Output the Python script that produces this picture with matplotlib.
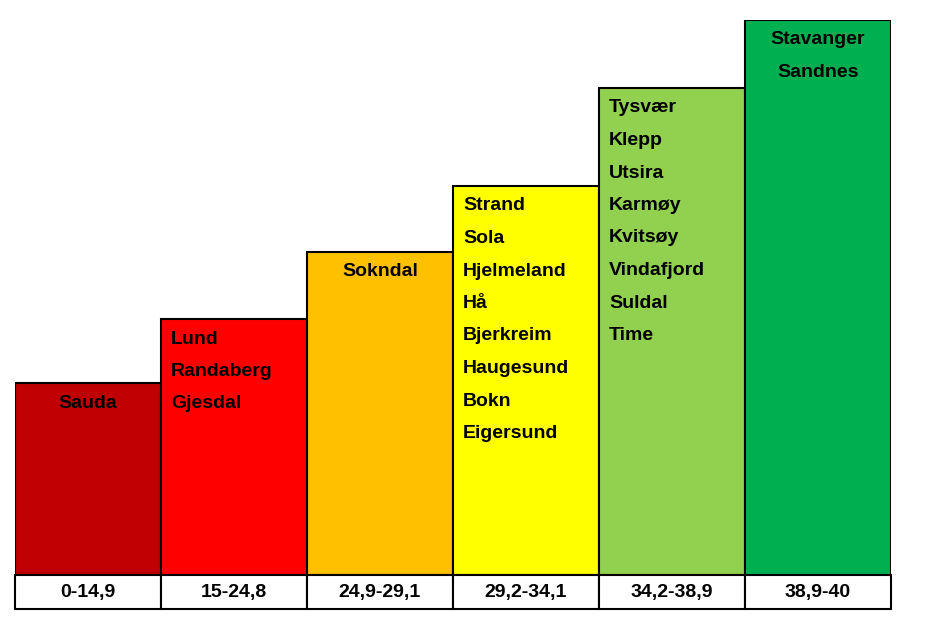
import matplotlib
matplotlib.use("Agg")
import matplotlib.pyplot as plt
from matplotlib.patches import Rectangle

plt.rcParams['font.family'] = ['Liberation Sans', 'DejaVu Sans']

ranges = ["0-14,9", "15-24,8", "24,9-29,1", "29,2-34,1", "34,2-38,9", "38,9-40"]
heights = [192, 256, 323, 389, 487, 555]
names = [
    ["Sauda"],
    ["Lund", "Randaberg", "Gjesdal"],
    ["Sokndal"],
    ["Strand", "Sola", "Hjelmeland", "Hå", "Bjerkreim", "Haugesund", "Bokn", "Eigersund"],
    ["Tysvær", "Klepp", "Utsira", "Karmøy", "Kvitsøy", "Vindafjord", "Suldal", "Time"],
    ["Stavanger", "Sandnes"],
]
centered = [True, False, True, False, False, True]
colors = ["#C00000", "#FF0000", "#FFC000", "#FFFF00", "#92D050", "#00B050"]

fig = plt.figure(figsize=(9.25, 6.32), dpi=100)
ax = fig.add_axes([15 / 925, 23 / 632, 876 / 925, 589 / 632])
ax.set_xlim(0, 6)
ax.set_ylim(-34, 555)
ax.axis('off')

ax.bar(range(6), heights, width=1.0, align='edge', color=colors,
       edgecolor='black', linewidth=1.5)

for i, (h, lbl, ctr) in enumerate(zip(heights, names, centered)):
    for j, name in enumerate(lbl):
        y = h - 20 - j * 32.5
        if ctr:
            ax.text(i + 0.5, y, name, ha='center', va='center',
                    fontsize=14, fontweight='bold')
        else:
            ax.text(i + 0.07, y, name, ha='left', va='center',
                    fontsize=14, fontweight='bold')
    ax.add_patch(Rectangle((i, -34), 1, 34, facecolor='white',
                           edgecolor='black', linewidth=1.5, clip_on=False))
    ax.text(i + 0.5, -17, ranges[i], ha='center', va='center',
            fontsize=14, fontweight='bold')

fig.savefig("out.png", dpi=100, facecolor='white')
